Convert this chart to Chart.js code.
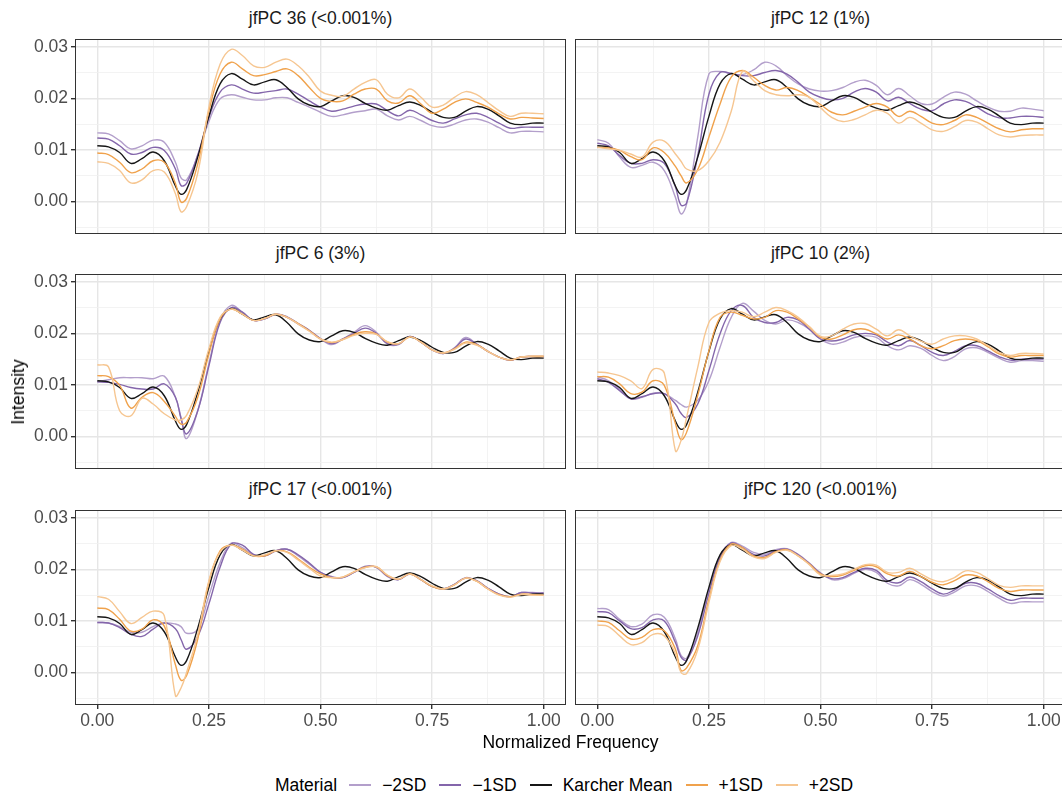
<!DOCTYPE html>
<html lang="en">
<head>
  <meta charset="UTF-8">
  <title>jfPC perturbations</title>
  <script src="https://cdn.jsdelivr.net/npm/chart.js"></script>
  <style>
    html, body { margin: 0; padding: 0; background: #fff; }
    body {
      width: 1062px; height: 794px; position: relative; overflow: hidden;
      font-family: "Liberation Sans", Arial, sans-serif;
    }
    canvas { position: absolute; }
    .strip {
      position: absolute; width: 491px; text-align: center;
      font-size: 17.5px; line-height: 18px; color: #1a1a1a;
    }
    .axis-title { position: absolute; font-size: 17.5px; line-height: 18px; color: #000; white-space: nowrap; }
    #legend {
      position: absolute; left: 75px; width: 991px; top: 776px;
      display: flex; justify-content: center; align-items: center;
      font-size: 17.5px; line-height: 18px; color: #000;
    }
    #legend .title { margin-right: 12px; }
    #legend .key { width: 22px; height: 2px; margin-right: 11px; }
    #legend .lbl { margin-right: 13px; }
  </style>
</head>
<body>

  <div id="figure"></div>
  <div class="axis-title" id="xTitle">Normalized Frequency</div>
  <div class="axis-title" id="yTitle">Intensity</div>
  <div id="legend"></div>

  <script>
    // x grid shared by every curve (normalized frequency)
    const X = [0, 0.025, 0.05, 0.075, 0.1, 0.125, 0.15, 0.175, 0.1875, 0.2, 0.225, 0.25, 0.275, 0.3,
      0.325, 0.35, 0.375, 0.4, 0.425, 0.45, 0.475, 0.5, 0.525, 0.55, 0.575, 0.6, 0.625, 0.65, 0.675,
      0.7, 0.725, 0.75, 0.775, 0.8, 0.825, 0.85, 0.875, 0.9, 0.925, 0.95, 0.975, 1];

    // intensities below are in thousandths (x 0.001)
    const MEAN = [10.8,10.6,9.5,7.4,8.3,9.6,7.9,3.0,1.4,2.3,8.6,16.5,22.8,24.8,23.7,22.6,23.2,23.6,22.1,19.9,18.7,18.4,
      19.5,20.5,20.2,19.0,18.1,17.7,18.6,19.3,18.6,17.3,16.3,16.3,17.5,18.4,17.9,16.6,15.2,14.9,15.2,15.2];

    const PC36_M2 = [13.3,13.1,11.8,10.2,10.8,11.9,11.5,7.6,4.6,4.2,9.0,15.5,19.9,20.7,20.2,19.7,19.7,20.1,20.1,19.2,18.3,17.3,
      16.5,16.8,17.3,17.6,17.9,16.6,15.8,16.5,15.7,14.7,14.4,15.0,15.8,16.0,15.4,14.3,13.3,13.6,13.6,13.5];
    const PC36_M1 = [12.3,12.1,10.8,9.2,9.5,10.5,9.9,6.3,3.1,3.5,9.0,16.3,21.2,22.6,21.8,21.0,21.2,21.5,21.8,20.8,19.5,18.3,
      17.5,17.9,18.5,18.9,18.9,17.6,16.6,17.7,16.8,15.7,15.2,16.0,16.8,17.1,16.3,15.2,14.2,14.4,14.4,14.4];
    const PC36_P1 = [9.4,9.1,7.6,5.6,6.3,7.9,7.6,3.5,-0.1,0.6,7.3,17.6,24.7,27.0,25.7,24.4,24.6,25.2,25.7,24.4,22.1,20.0,
      19.4,19.5,20.8,21.8,21.8,19.5,19.1,20.5,18.9,17.1,17.9,19.2,19.9,19.2,18.3,17.0,16.0,16.3,16.2,16.1];
    const PC36_P2 = [7.7,7.4,6.0,3.6,4.2,6.0,5.7,1.5,-2.0,-1.0,5.5,18.3,26.6,29.5,28.3,26.3,26.0,27.0,27.6,26.3,24.1,21.4,
      20.6,20.4,21.8,23.1,23.6,20.8,20.1,21.8,20.2,18.3,18.7,20.2,21.3,20.7,19.2,17.6,16.5,17.1,17.1,17.0];

    const PC12_M2 = [12.0,11.3,8.6,6.6,7.0,7.6,6.0,0.8,-2.4,-0.5,12.5,24.7,25.2,24.8,24.6,25.5,27.0,26.3,24.4,22.8,21.8,21.4,
      21.5,22.1,23.1,23.5,22.5,20.7,21.9,20.5,19.0,18.9,20.2,21.2,20.8,19.5,18.3,17.5,17.5,18.1,17.9,17.6];
    const PC12_M1 = [11.3,10.8,8.9,7.4,7.4,8.1,7.4,2.8,-0.7,-0.3,8.9,20.8,25.0,24.8,24.4,24.4,25.0,25.4,24.7,23.1,21.2,20.2,
      19.7,20.0,21.2,21.9,21.2,19.5,20.2,19.0,17.9,17.6,18.9,19.7,19.4,18.3,17.0,16.2,16.2,16.5,16.5,16.3];
    const PC12_P1 = [10.5,10.4,9.9,8.7,8.1,10.4,9.5,6.8,5.0,3.6,6.2,12.5,18.9,24.1,25.4,24.1,22.5,21.6,22.1,21.5,20.2,18.8,
      17.3,16.8,17.5,18.3,19.0,18.3,16.5,17.5,16.5,15.2,14.9,15.7,16.8,16.3,15.2,14.1,13.5,13.9,14.1,14.1];
    const PC12_P2 = [10.5,10.2,9.9,9.2,8.6,11.5,11.7,9.2,7.8,6.3,6.0,7.9,11.5,17.5,25.2,23.4,21.5,20.7,20.5,20.7,20.2,18.2,
      16.3,15.5,15.9,16.8,17.7,17.1,15.2,16.3,15.2,13.9,13.6,14.5,15.7,15.4,14.1,12.9,12.5,12.8,12.9,12.9];

    const PC6_M2 = [10.6,11.0,11.4,11.4,11.4,11.2,11.7,7.6,3.7,-0.4,5.0,14.1,22.5,25.4,24.1,22.5,22.8,23.7,23.1,21.8,20.5,18.9,
      17.8,18.9,20.2,21.5,20.2,17.9,17.8,19.4,18.3,16.8,16.1,17.2,19.2,17.9,16.5,15.4,14.8,15.4,15.5,15.5];
    const PC6_M1 = [10.6,10.5,10.1,9.5,9.2,9.2,10.2,7.6,3.5,0.5,5.0,13.7,22.1,25.0,24.1,22.5,22.8,23.7,23.2,21.9,20.6,19.0,
      18.0,18.9,20.0,21.0,20.0,18.0,17.9,19.4,18.3,16.8,16.1,17.1,18.9,17.9,16.5,15.4,14.8,15.4,15.5,15.5];
    const PC6_P1 = [11.8,11.6,9.9,5.5,7.6,8.5,6.8,3.9,2.4,2.8,7.6,16.0,22.8,24.7,23.7,22.5,22.9,23.7,23.1,21.9,20.5,18.9,
      18.2,18.8,19.8,20.3,19.9,18.3,18.0,19.3,18.3,16.8,16.2,17.0,18.3,17.8,16.5,15.4,14.8,15.4,15.5,15.5];
    const PC6_P2 = [13.9,13.5,5.0,4.0,7.4,6.3,4.4,3.2,3.2,4.1,9.2,17.0,23.1,24.7,23.7,22.5,22.9,23.7,23.1,21.8,20.4,18.9,
      18.3,18.8,19.6,20.0,19.8,18.4,18.0,19.3,18.3,16.8,16.2,16.9,18.1,17.7,16.5,15.4,14.9,15.4,15.6,15.6];

    const PC10_M2 = [11.6,10.8,9.2,7.3,7.6,8.4,8.3,7.0,6.2,5.7,7.0,10.8,17.3,23.1,25.8,24.3,22.5,21.8,22.6,22.1,20.8,18.9,
      17.9,18.3,19.2,19.5,19.2,17.6,16.8,17.6,17.1,15.7,14.7,15.5,17.0,17.2,16.3,15.2,14.4,14.7,14.7,14.6];
    const PC10_M1 = [11.2,10.5,8.9,7.3,7.7,8.3,8.3,6.3,4.5,3.7,6.3,12.8,19.9,24.4,25.4,23.1,22.1,22.1,23.1,22.6,20.8,18.9,
      18.5,18.9,19.7,20.0,19.7,18.3,17.6,18.6,17.6,16.3,15.7,16.5,17.6,17.6,16.6,15.5,14.8,15.0,15.0,15.0];
    const PC10_P1 = [11.6,11.5,10.2,8.3,8.6,10.8,9.9,2.5,-0.6,0.8,8.0,16.6,23.1,24.1,23.5,22.8,23.1,24.4,24.1,22.8,21.2,19.2,
      18.9,19.7,20.7,20.8,19.9,18.9,19.7,18.9,17.6,17.0,17.6,18.6,18.9,18.6,17.4,16.0,15.4,15.7,15.7,15.7];
    const PC10_P2 = [12.5,12.3,11.8,10.8,9.3,13.0,12.3,-2.8,-0.8,3.7,13.4,22.1,23.9,24.4,24.1,23.2,24.1,25.0,24.4,23.1,21.3,19.4,
      19.5,20.8,21.8,21.9,20.8,19.5,20.7,19.5,18.5,17.9,18.9,19.5,19.5,18.9,17.6,16.3,15.7,16.1,16.1,16.0];

    const PC17_M2 = [9.7,9.6,8.9,7.8,7.8,8.9,9.6,9.4,8.9,7.6,8.4,14.9,21.3,25.1,24.2,22.8,22.6,23.6,23.9,22.6,21.0,19.4,
      18.6,18.4,19.4,20.6,20.4,18.6,18.0,19.2,18.0,16.7,16.2,17.1,18.4,17.8,16.3,15.2,14.7,15.5,15.5,15.4];
    const PC17_M1 = [9.7,9.6,8.7,7.4,7.0,8.4,9.6,8.5,6.4,4.5,7.0,13.3,20.4,24.9,24.7,22.9,22.6,23.6,23.9,22.8,21.2,19.4,
      18.5,18.4,19.4,20.5,20.4,18.7,18.0,19.1,18.0,16.7,16.2,17.1,18.3,17.8,16.3,15.2,14.7,15.5,15.4,15.4];
    const PC17_P1 = [12.5,12.2,10.3,8.0,8.4,10.2,9.0,1.5,-1.5,-0.6,6.5,17.5,23.6,24.7,23.9,22.6,22.6,23.6,23.4,22.0,20.4,19.1,
      18.4,18.5,19.5,20.4,20.5,18.8,18.1,19.1,18.0,16.7,16.2,17.0,18.3,17.7,16.2,15.1,14.7,15.2,15.1,15.0];
    const PC17_P2 = [14.7,14.2,11.8,9.5,10.7,11.9,11.0,-4.5,-3.0,0.0,7.4,17.8,23.3,24.7,23.7,22.6,22.8,23.6,23.3,21.8,20.2,18.7,
      18.4,18.5,19.5,20.3,20.5,18.9,18.1,19.1,18.0,16.8,16.2,17.0,18.3,17.7,16.2,15.0,14.6,15.1,15.0,15.0];

    const PC120_M2 = [12.4,12.2,10.3,8.9,9.4,11.2,10.7,6.5,3.3,2.8,7.8,16.2,22.6,25.2,24.5,23.3,22.9,23.8,24.0,22.9,21.2,19.3,
      18.0,18.2,19.2,20.0,19.4,17.3,16.8,18.0,17.1,15.7,14.8,15.6,16.8,16.8,15.7,14.4,13.4,13.7,13.7,13.7];
    const PC120_M1 = [11.8,11.6,10.0,8.5,8.7,10.2,10.0,5.8,3.0,2.4,7.1,15.4,22.3,25.1,24.2,22.9,22.6,23.6,23.9,22.8,21.1,19.2,
      18.2,18.4,19.4,20.2,19.8,17.8,17.4,18.5,17.6,16.2,15.2,16.0,17.3,17.3,16.2,14.9,14.0,14.4,14.4,14.4];
    const PC120_P1 = [10.0,9.7,8.1,6.5,6.8,8.3,8.1,4.5,0.4,0.9,5.2,14.2,21.8,24.9,24.2,22.6,22.3,23.4,23.8,22.6,21.0,19.1,
      18.6,18.9,19.8,20.7,20.5,19.1,18.7,19.6,18.6,17.5,17.0,17.8,18.9,18.7,17.6,16.3,15.7,16.0,16.0,16.0];
    const PC120_P2 = [9.2,8.9,7.1,5.4,5.8,7.4,7.1,3.6,0.0,-0.2,4.4,13.6,21.5,24.6,23.9,22.4,22.1,23.3,23.7,22.6,20.9,18.9,
      18.8,19.1,20.0,20.9,20.8,19.4,19.4,20.2,19.1,18.0,17.6,18.4,19.7,19.4,18.2,16.9,16.5,16.8,16.8,16.8];

    const SERIES_NAMES = ["\u22122SD", "\u22121SD", "Karcher Mean", "+1SD", "+2SD"];
    const SERIES_COLORS = ["#b39fcb", "#8466ab", "#161616", "#f0a24c", "#f6c691"];

    const PANEL_TITLES = ["jfPC 36 (<0.001%)", "jfPC 12 (1%)", "jfPC 6 (3%)", "jfPC 10 (2%)", "jfPC 17 (<0.001%)", "jfPC 120 (<0.001%)"];
    const PANEL_SERIES = [
      [PC36_M2, PC36_M1, MEAN, PC36_P1, PC36_P2],
      [PC12_M2, PC12_M1, MEAN, PC12_P1, PC12_P2],
      [PC6_M2, PC6_M1, MEAN, PC6_P1, PC6_P2],
      [PC10_M2, PC10_M1, MEAN, PC10_P1, PC10_P2],
      [PC17_M2, PC17_M1, MEAN, PC17_P1, PC17_P2],
      [PC120_M2, PC120_M1, MEAN, PC120_P1, PC120_P2]
    ];

    const X_GRID = [0, 0.125, 0.25, 0.375, 0.5, 0.625, 0.75, 0.875, 1];
    const Y_GRID = [-0.005, 0, 0.005, 0.01, 0.015, 0.02, 0.025, 0.03];

    // layout (px)
    const COL_LEFT = [75, 575];
    const ROW_TOP = [39, 274, 510];
    const PW = 491, PH = 195, PAD = 2;
    const YAXIS_W = 75, XAXIS_H = 30;
    const TICK_FONT = { family: "Liberation Sans, Arial, sans-serif", size: 17.5 };

    const isMajorY = v => Math.abs(v * 100 - Math.round(v * 100)) < 1e-6;
    const isMajorX = v => Math.abs(v * 4 - Math.round(v * 4)) < 1e-6;

    const noScalePadding = s => { s.paddingTop = 0; s.paddingBottom = 0; s.paddingLeft = 0; s.paddingRight = 0; };

    const panelBorder = {
      id: "panelBorder",
      afterDatasetsDraw(chart) {
        const a = chart.chartArea, c = chart.ctx;
        c.save();
        c.strokeStyle = "#333333";
        c.lineWidth = 1;
        c.strokeRect(Math.round(a.left) + 0.5, Math.round(a.top) + 0.5,
          Math.round(a.right - a.left) - 1, Math.round(a.bottom - a.top) - 1);
        c.restore();
      }
    };

    const fig = document.getElementById("figure");

    PANEL_SERIES.forEach((series, i) => {
      const r = Math.floor(i / 2), col = i % 2;
      const leftCol = col === 0, bottomRow = r === 2;

      const cv = document.createElement("canvas");
      const left = leftCol ? 0 : COL_LEFT[1] - PAD;
      const top = ROW_TOP[r] - PAD;
      const w = (leftCol ? YAXIS_W : PAD) + PW + PAD;
      const h = PAD + PH + (bottomRow ? XAXIS_H : PAD);
      cv.width = w; cv.height = h;
      cv.style.left = left + "px"; cv.style.top = top + "px";
      cv.style.width = w + "px"; cv.style.height = h + "px";
      fig.appendChild(cv);

      const strip = document.createElement("div");
      strip.className = "strip";
      strip.textContent = PANEL_TITLES[i];
      strip.style.left = COL_LEFT[col] + "px";
      strip.style.top = (ROW_TOP[r] - 30) + "px";
      fig.appendChild(strip);

      new Chart(cv.getContext("2d"), {
        type: "line",
        data: {
          datasets: series.map((vals, k) => ({
            label: SERIES_NAMES[k],
            data: vals.map((v, j) => ({ x: X[j], y: v * 0.001 })),
            borderColor: SERIES_COLORS[k],
            borderWidth: 1.4,
            pointRadius: 0,
            tension: 0.4,
            fill: false,
            order: 4 - k
          }))
        },
        options: {
          responsive: false,
          animation: false,
          events: [],
          layout: { padding: { top: PAD, right: PAD, left: leftCol ? 0 : PAD, bottom: bottomRow ? 0 : PAD } },
          plugins: { legend: { display: false }, tooltip: { enabled: false } },
          scales: {
            x: {
              type: "linear", min: -0.05, max: 1.05,
              afterBuildTicks: s => { s.ticks = X_GRID.map(v => ({ value: v })); },
              afterFit: s => { s.height = bottomRow ? XAXIS_H : 0; noScalePadding(s); },
              border: { display: false },
              grid: {
                drawTicks: bottomRow, tickLength: 4,
                color: c => isMajorX(c.tick.value) ? "#e6e6e6" : "#f0f0f0",
                lineWidth: c => isMajorX(c.tick.value) ? 1.4 : 0.8,
                tickColor: c => isMajorX(c.tick.value) ? "#333333" : "rgba(0,0,0,0)"
              },
              ticks: {
                display: bottomRow, autoSkip: false, maxRotation: 0, padding: 2,
                color: "#4d4d4d", font: TICK_FONT,
                callback: v => isMajorX(v) ? v.toFixed(2) : ""
              }
            },
            y: {
              type: "linear", min: -0.0063, max: 0.0315,
              afterBuildTicks: s => { s.ticks = Y_GRID.map(v => ({ value: v })); },
              afterFit: s => { s.width = leftCol ? YAXIS_W : 0; noScalePadding(s); },
              border: { display: false },
              grid: {
                drawTicks: leftCol, tickLength: 4,
                color: c => isMajorY(c.tick.value) ? "#e6e6e6" : "#f0f0f0",
                lineWidth: c => isMajorY(c.tick.value) ? 1.4 : 0.8,
                tickColor: c => isMajorY(c.tick.value) ? "#333333" : "rgba(0,0,0,0)"
              },
              ticks: {
                display: leftCol, autoSkip: false, padding: 3,
                color: "#4d4d4d", font: TICK_FONT,
                callback: v => isMajorY(v) ? v.toFixed(2) : ""
              }
            }
          }
        },
        plugins: [panelBorder]
      });
    });

    // axis titles
    const xt = document.getElementById("xTitle");
    xt.style.left = (COL_LEFT[0] + (COL_LEFT[1] + PW - COL_LEFT[0]) / 2) + "px";
    xt.style.top = "733px";
    xt.style.transform = "translateX(-50%)";
    const yt = document.getElementById("yTitle");
    yt.style.left = "18px";
    yt.style.top = "392px";
    yt.style.transform = "translate(-50%, -50%) rotate(-90deg)";

    // legend
    const lg = document.getElementById("legend");
    lg.innerHTML = '<span class="title">Material</span>' + SERIES_NAMES.map((n, k) =>
      '<span class="key" style="background:' + SERIES_COLORS[k] + '"></span><span class="lbl">' + n + '</span>').join("");
  </script>
</body>
</html>
